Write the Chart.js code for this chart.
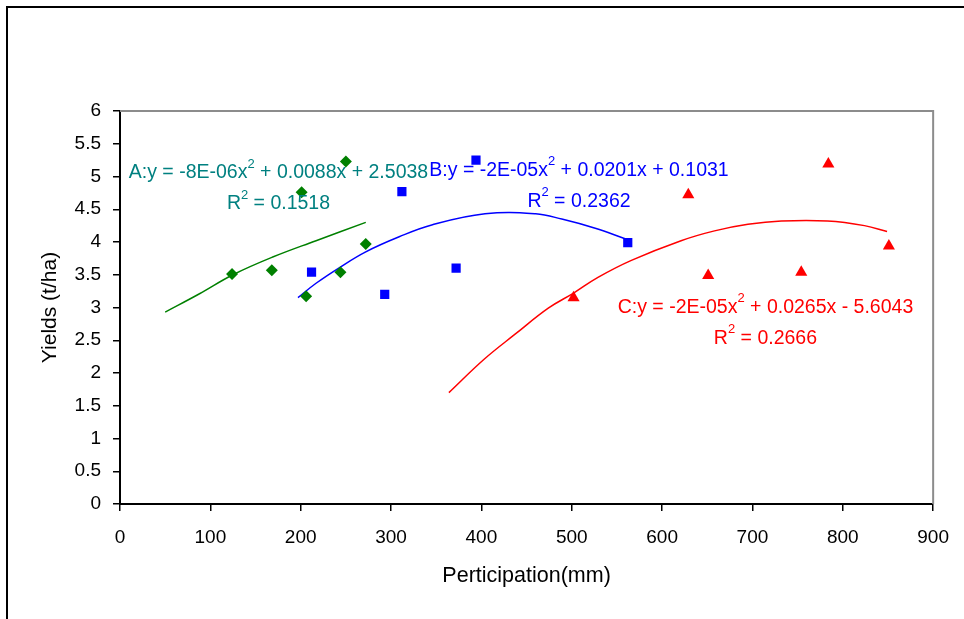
<!DOCTYPE html>
<html lang="en">
<head>
<meta charset="UTF-8">
<title>Yields vs Perticipation</title>
<script src="https://cdn.jsdelivr.net/npm/chart.js"></script>
<style>
    html, body { margin: 0; padding: 0; background: #fff; overflow: hidden; }
    #frame { position: absolute; left: 6px; top: 6px; width: 1000px; height: 700px; border: 2px solid #000; }
    #wrap { position: absolute; left: 0; top: 0; width: 964px; height: 619px; }
</style>
</head>
<body>
<div id="frame"></div>
<div id="wrap"><canvas id="yieldChart" width="964" height="619"></canvas></div>

<script>
    // observed points (precipitation mm, yield t/ha)
    const aX = [124, 168, 206, 244, 272, 201, 250];
    const aY = [3.51, 3.57, 3.17, 3.54, 3.97, 4.76, 5.23];
    const bX = [212, 293, 312, 372, 394, 562];
    const bY = [3.54, 3.20, 4.77, 3.60, 5.25, 3.99];
    const cX = [502, 629, 651, 754, 784, 851];
    const cY = [3.15, 4.72, 3.49, 3.54, 5.19, 3.94];

    // trendlines
    const trendAX = [50, 88, 125, 169, 217, 272];
    const trendAY = [2.93, 3.21, 3.50, 3.77, 4.02, 4.30];
    const trendBX = [197, 217, 243, 272, 309, 345, 404, 460, 489, 526, 559];
    const trendBY = [3.15, 3.37, 3.61, 3.85, 4.08, 4.26, 4.43, 4.43, 4.35, 4.21, 4.05];
    const trendCX = [364, 403, 438, 474, 502, 529, 566, 621, 658, 695, 732, 783, 824, 849];
    const trendCY = [1.70, 2.21, 2.60, 2.99, 3.22, 3.46, 3.72, 4.02, 4.17, 4.27, 4.32, 4.32, 4.25, 4.16];

    // equation labels, ^ marks a superscript digit
    const eqText = [
        ['A:y = -8E-06x^2 + 0.0088x + 2.5038', 'R^2 = 0.1518'],
        ['B:y = -2E-05x^2 + 0.0201x + 0.1031', 'R^2 = 0.2362'],
        ['C:y = -2E-05x^2 + 0.0265x - 5.6043', 'R^2 = 0.2666']
    ];
    const eqAtX = [175.4, 508, 714.4];
    const eqAtY = [4.97, 5.01, 2.92];
    const eqColor = ['#008080', '#0000FF', '#FF0000'];

    const FONT = '"Liberation Sans", Arial, sans-serif';

    function pts(xs, ys) {
        return xs.map((x, i) => ({ x: x, y: ys[i] }));
    }

    function drawRich(ctx, text, cx, baseY, size) {
        const parts = text.split('^');
        const segs = [{ t: parts[0], sup: false }];
        for (let i = 1; i < parts.length; i++) {
            segs.push({ t: parts[i][0], sup: true });
            segs.push({ t: parts[i].slice(1), sup: false });
        }
        const supSize = Math.round(size * 0.68);
        let total = 0;
        segs.forEach(s => {
            ctx.font = (s.sup ? supSize : size) + 'px ' + FONT;
            s.w = ctx.measureText(s.t).width;
            total += s.w;
        });
        let x = cx - total / 2;
        segs.forEach(s => {
            ctx.font = (s.sup ? supSize : size) + 'px ' + FONT;
            ctx.fillText(s.t, x, s.sup ? baseY - size * 0.55 : baseY);
            x += s.w;
        });
    }

    const equationLabels = {
        id: 'equationLabels',
        afterDatasetsDraw(chart) {
            const ctx = chart.ctx;
            const xs = chart.scales.x, ys = chart.scales.y;
            ctx.save();
            ctx.textBaseline = 'alphabetic';
            ctx.textAlign = 'left';
            eqText.forEach((lines, i) => {
                ctx.fillStyle = eqColor[i];
                const cx = xs.getPixelForValue(eqAtX[i]);
                const by = ys.getPixelForValue(eqAtY[i]);
                lines.forEach((ln, j) => drawRich(ctx, ln, cx, by + j * 31, 19.5));
            });
            ctx.restore();
        }
    };

    // gray top and right edges of the plot area
    const plotEdge = {
        id: 'plotEdge',
        beforeDatasetsDraw(chart) {
            const { ctx, chartArea: a } = chart;
            ctx.save();
            ctx.strokeStyle = '#8c8c8c';
            ctx.lineWidth = 2;
            ctx.beginPath();
            ctx.moveTo(a.left, a.top);
            ctx.lineTo(a.right, a.top);
            ctx.lineTo(a.right, a.bottom);
            ctx.stroke();
            ctx.restore();
        }
    };

    function trendSet(xs, ys, color) {
        return {
            data: pts(xs, ys),
            showLine: true,
            borderColor: color,
            borderWidth: 1.5,
            pointRadius: 0,
            tension: 0.4,
            fill: false
        };
    }

    function markSet(xs, ys, color, style, r) {
        return {
            data: pts(xs, ys),
            showLine: false,
            pointStyle: style,
            pointRadius: r,
            pointHoverRadius: r,
            backgroundColor: color,
            borderColor: color,
            borderWidth: 0
        };
    }

    const axisTicks = { display: true, drawOnChartArea: false, drawTicks: true, tickLength: 7, color: '#000', lineWidth: 1.5 };

    new Chart(document.getElementById('yieldChart'), {
        type: 'scatter',
        data: {
            datasets: [
                markSet(aX, aY, '#008000', 'rectRot', 6),
                markSet(bX, bY, '#0000FF', 'rect', 6.5),
                markSet(cX, cY, '#FF0000', 'triangle', 7),
                trendSet(trendAX, trendAY, '#008000'),
                trendSet(trendBX, trendBY, '#0000FF'),
                trendSet(trendCX, trendCY, '#FF0000')
            ]
        },
        options: {
            responsive: false,
            animation: false,
            layout: { padding: { left: 0, top: 111, right: 27, bottom: 0 } },
            plugins: { legend: { display: false }, tooltip: { enabled: false } },
            scales: {
                x: {
                    type: 'linear', min: 0, max: 900,
                    ticks: { stepSize: 100, color: '#000', padding: 15, font: { family: FONT, size: 19 } },
                    grid: axisTicks,
                    border: { display: true, color: '#000', width: 2 },
                    title: { display: true, text: 'Perticipation(mm)', color: '#000', font: { family: FONT, size: 21.5 }, padding: { top: 0, bottom: 30 } },
                    afterFit(s) { s.height = 115; }
                },
                y: {
                    type: 'linear', min: 0, max: 6,
                    ticks: { stepSize: 0.5, color: '#000', padding: 12, font: { family: FONT, size: 19 }, callback: v => String(v) },
                    grid: axisTicks,
                    border: { display: true, color: '#000', width: 2 },
                    title: { display: true, text: 'Yields (t/ha)', color: '#000', font: { family: FONT, size: 21 }, padding: { top: 38, bottom: 0 } },
                    afterFit(s) { s.width = 120; }
                }
            }
        },
        plugins: [plotEdge, equationLabels]
    });
</script>
</body>
</html>
